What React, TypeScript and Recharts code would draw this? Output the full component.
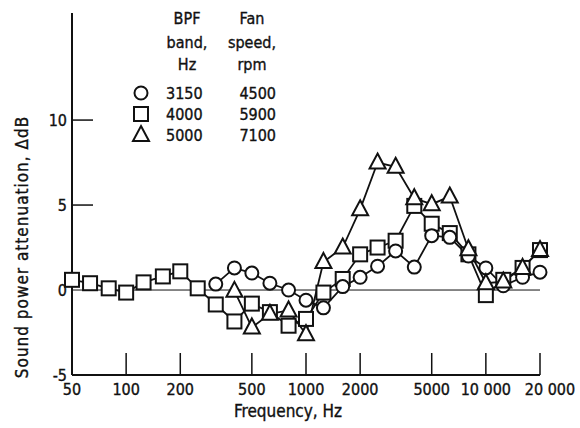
import { LineChart, Line, XAxis, YAxis, ReferenceLine } from "recharts";

// one-third octave band centre frequencies, Hz
const FREQS = [
  50, 63, 80, 100, 125, 160, 200, 250, 315, 400, 500, 630, 800, 1000, 1250, 1600,
  2000, 2500, 3150, 4000, 5000, 6300, 8000, 10000, 12500, 16000, 20000,
];

// BPF band 4000 Hz, fan speed 5900 rpm (squares)
const SQUARE_4000 = [
  0.6, 0.4, 0.1, -0.15, 0.45, 0.8, 1.1, 0.1, -0.85, -1.85, -0.8, -1.3, -2.1, -1.7, -0.15, 0.65,
  2.1, 2.5, 2.9, 4.95, 3.9, 3.35, 2.1, -0.3, 0.6, 1.3, 2.35,
];

// BPF band 3150 Hz, fan speed 4500 rpm (circles)
const CIRCLE_3150 = [
  null, null, null, null, null, null, null, null, 0.35, 1.3, 1.0, 0.4, 0.0, -0.6, -1.05, 0.2,
  0.75, 1.4, 2.3, 1.35, 3.2, 3.1, 2.0, 1.3, 0.25, 0.75, 1.05,
];

// BPF band 5000 Hz, fan speed 7100 rpm (triangles)
const TRIANGLE_5000 = [
  null, null, null, null, null, null, null, null, null, -0.05, -2.2, -1.4, -1.2, -2.6, 1.65, 2.5,
  4.75, 7.5, 7.25, 5.4, 5.05, 5.5, 2.4, 0.4, 0.5, 1.3, 2.35,
];

const X_TICKS = [50, 100, 200, 500, 1000, 2000, 5000, 10000, 20000];
const X_TICK_LABELS = ["50", "100", "200", "500", "1000", "2000", "5000", "10 000", "20 000"];
const Y_TICKS = [-5, 0, 5, 10];

const LEGEND_ROWS = [
  { shape: "circle", band: "3150", speed: "4500" },
  { shape: "square", band: "4000", speed: "5900" },
  { shape: "triangle", band: "5000", speed: "7100" },
];

const data = FREQS.map((f, i) => ({
  f,
  sq: SQUARE_4000[i],
  ci: CIRCLE_3150[i],
  tr: TRIANGLE_5000[i],
}));

const FONT = "'DejaVu Sans Condensed', 'Liberation Sans Narrow', 'DejaVu Sans', sans-serif";
const INK = "#111";

function Marker({ shape, cx, cy }: { shape: string; cx: number; cy: number }) {
  if (shape === "circle") {
    return <circle cx={cx} cy={cy} r={6.5} fill="#fff" stroke={INK} strokeWidth={2} />;
  }
  if (shape === "square") {
    return <rect x={cx - 7} y={cy - 7} width={14} height={14} fill="#fff" stroke={INK} strokeWidth={2} />;
  }
  return (
    <polygon
      points={`${cx},${cy - 9} ${cx + 8},${cy + 6} ${cx - 8},${cy + 6}`}
      fill="#fff"
      stroke={INK}
      strokeWidth={2}
      strokeLinejoin="miter"
    />
  );
}

function makeDot(shape: string) {
  return (props: any) => {
    const { cx, cy, value, index } = props;
    if (cx == null || cy == null || value == null) return <g key={`${shape}-${index}`} />;
    return (
      <g key={`${shape}-${index}`}>
        <Marker shape={shape} cx={cx} cy={cy} />
      </g>
    );
  };
}

function XTick(props: any) {
  const { x, y, payload } = props;
  const i = X_TICKS.indexOf(payload.value);
  const label = X_TICK_LABELS[i] ?? String(payload.value);
  const dx = payload.value === 20000 ? 10 : 0;
  return (
    <g>
      {i > 0 && <line x1={x} x2={x} y1={y} y2={y - 22} stroke={INK} strokeWidth={1.5} />}
      <text
        x={x + dx}
        y={y + 20}
        textAnchor="middle"
        fontSize={16}
        fontFamily={FONT}
        fill={INK}
        stroke={INK}
        strokeWidth={0.35}
      >
        {label}
      </text>
    </g>
  );
}

function YTick(props: any) {
  const { x, y, payload } = props;
  return (
    <g>
      {payload.value > -5 && payload.value !== 0 && (
        <line x1={x} x2={x + 21} y1={y} y2={y} stroke={INK} strokeWidth={1.5} />
      )}
      <text
        x={x - 5}
        y={y + 6}
        textAnchor="end"
        fontSize={16}
        fontFamily={FONT}
        fill={INK}
        stroke={INK}
        strokeWidth={0.35}
      >
        {payload.value}
      </text>
    </g>
  );
}

export default function App() {
  return (
    <div style={{ position: "absolute", left: 0, top: 0, width: 580, height: 428, background: "#fff" }}>
      <LineChart width={580} height={428} data={data} margin={{ top: 13, right: 40, left: 42, bottom: 23 }}>
        <XAxis
          dataKey="f"
          type="number"
          scale="log"
          domain={[50, 20000]}
          ticks={X_TICKS}
          interval={0}
          tick={<XTick />}
          tickLine={false}
          tickSize={0}
          tickMargin={0}
          height={30}
          axisLine={{ stroke: INK, strokeWidth: 2 }}
        />
        <YAxis
          type="number"
          domain={[-5, 16.3]}
          ticks={Y_TICKS}
          interval={0}
          tick={<YTick />}
          tickLine={false}
          tickSize={0}
          tickMargin={0}
          width={30}
          axisLine={{ stroke: INK, strokeWidth: 2 }}
        />
        <ReferenceLine y={0} stroke={INK} strokeWidth={1} />
        <Line
          dataKey="sq"
          stroke={INK}
          strokeWidth={1.8}
          dot={makeDot("square")}
          activeDot={false}
          isAnimationActive={false}
        />
        <Line
          dataKey="ci"
          stroke={INK}
          strokeWidth={1.8}
          dot={makeDot("circle")}
          activeDot={false}
          isAnimationActive={false}
        />
        <Line
          dataKey="tr"
          stroke={INK}
          strokeWidth={1.8}
          dot={makeDot("triangle")}
          activeDot={false}
          isAnimationActive={false}
        />
      </LineChart>

      <svg
        width={580}
        height={428}
        style={{ position: "absolute", left: 0, top: 0, pointerEvents: "none" }}
        fontFamily={FONT}
        fontSize={16}
        fill={INK}
        stroke={INK}
        strokeWidth={0.35}
      >
        <text x={187} y={24} textAnchor="middle">BPF</text>
        <text x={187} y={48} textAnchor="middle">band,</text>
        <text x={187} y={70} textAnchor="middle">Hz</text>
        <text x={252} y={24} textAnchor="middle">Fan</text>
        <text x={252} y={48} textAnchor="middle">speed,</text>
        <text x={252} y={70} textAnchor="middle">rpm</text>
        {LEGEND_ROWS.map((row, i) => {
          const cy = 93 + i * 21;
          return (
            <g key={row.band}>
              <Marker shape={row.shape} cx={141} cy={cy} />
              <text x={166} y={cy + 6}>{row.band}</text>
              <text x={276} y={cy + 6} textAnchor="end">{row.speed}</text>
            </g>
          );
        })}
        <text x={288} y={417} textAnchor="middle" fontSize={17}>Frequency,  Hz</text>
        <text
          x={28}
          y={247}
          textAnchor="middle"
          fontSize={17}
          letterSpacing={1}
          transform="rotate(-90 28 247)"
        >
          Sound power attenuation,  ΔdB
        </text>
      </svg>
    </div>
  );
}
